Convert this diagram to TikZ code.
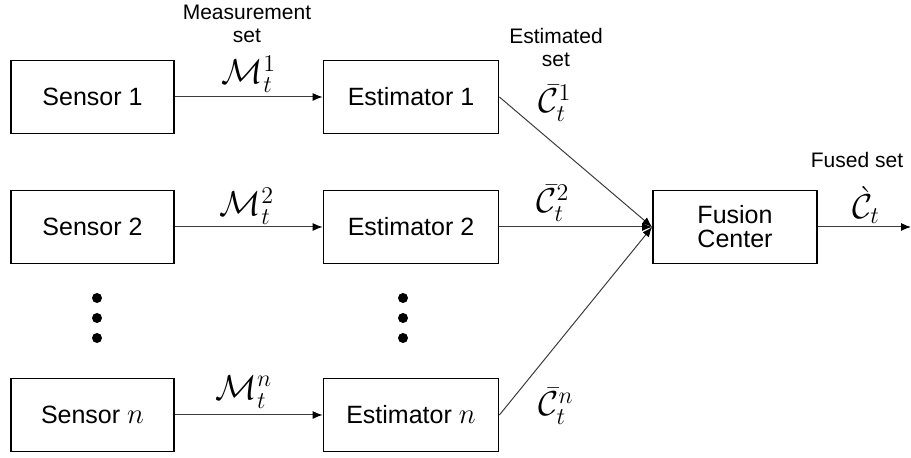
\documentclass[tikz,border=0pt]{standalone}
\usepackage{amsmath,amssymb}
\usepackage{fontspec}
\setsansfont{Liberation Sans}
\usetikzlibrary{positioning, arrows.meta}
\definecolor{wire}{RGB}{60,60,60}

\begin{document}
\begin{tikzpicture}[x=0.5pt, y=-0.5pt, font=\sffamily,
  block/.style={draw, line width=0.9pt, minimum height=36.5pt, inner sep=0pt,
                align=center, font=\sffamily\fontsize{12.5}{14}\selectfont},
  flow/.style={wire, line width=0.5pt, -{Latex[length=5pt,width=4pt,black]}},
  tag/.style={align=center, font=\sffamily\fontsize{10.5}{11.5}\selectfont},
  sym/.style={inner sep=0pt, font=\fontsize{17}{18}\selectfont}]
  \useasboundingbox (0,0) rectangle (911,458);
  % sensor and estimator rows
  \foreach \i/\y/\lbl in {1/97/1, 2/227/2, n/415/{\fontsize{15}{16}\selectfont$n$}} {
    \node[block, minimum width=81.5pt] (sensor\i) at (92.5,\y) {Sensor \lbl};
    \node[block, minimum width=87.5pt] (est\i) at (411,\y) {Estimator \lbl};
    \draw[flow] (sensor\i) -- (est\i);
  }
  \node[block, minimum width=82pt] (fusion) at (735,227) {Fusion\\[-2pt]Center};
  \coordinate (out) at (911,227);
  \foreach \i in {1,2,n}
    \draw[flow] (est\i.east) -- (fusion.west);
  \draw[flow] (fusion) -- (out);
  % vertical dots
  \foreach \y in {298,318,338} {
    \fill (97,\y) circle (2.5pt);
    \fill (403,\y) circle (2.5pt);
  }
  % set labels
  \node[tag] (meastag) at (247,24) {Measurement\\set};
  \node[tag] (esttag) at (556,48) {Estimated\\set};
  \node[tag] (fusedtag) at (857,160) {Fused set};
  \node[sym] (m1) at (249,74) {$\mathcal{M}_t^1$};
  \node[sym] (m2) at (247,206) {$\mathcal{M}_t^2$};
  \node[sym] (mn) at (244,392) {$\mathcal{M}_t^n$};
  \node[sym] (c1) at (555,103) {$\bar{\mathcal{C}}_t^1$};
  \node[sym] (c2) at (553,203) {$\bar{\mathcal{C}}_t^2$};
  \node[sym] (cn) at (556,406) {$\bar{\mathcal{C}}_t^n$};
  \node[sym] (cf) at (866,205) {$\grave{\mathcal{C}}_t$};
\end{tikzpicture}
\end{document}
